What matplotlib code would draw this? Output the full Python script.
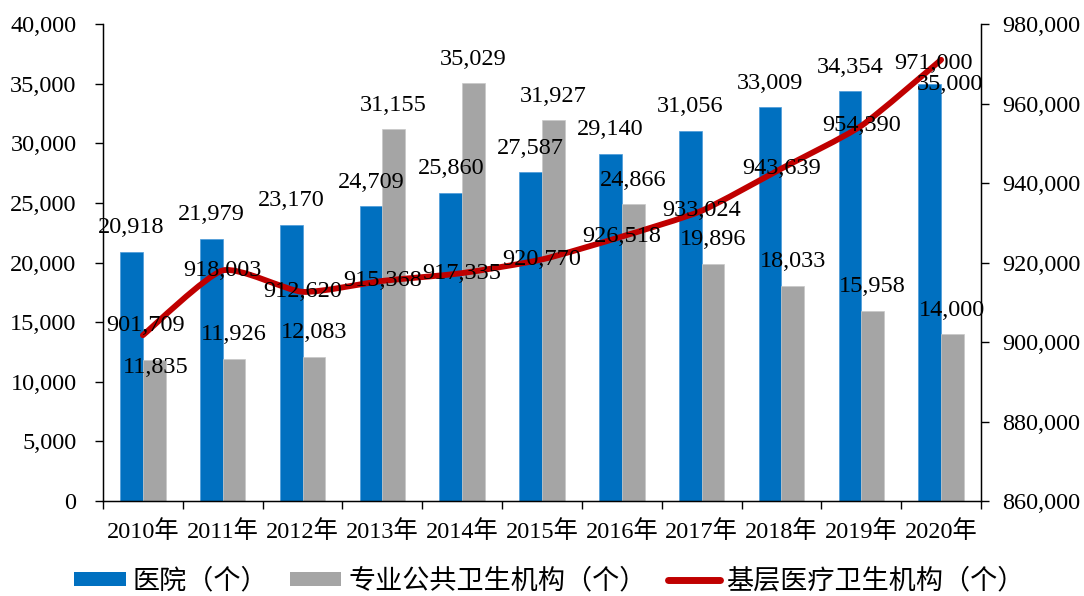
import matplotlib
matplotlib.use("Agg")
import matplotlib.pyplot as plt
import numpy as np
from matplotlib.path import Path
from matplotlib.patches import PathPatch, Patch
from matplotlib.lines import Line2D
from matplotlib.ticker import FuncFormatter

plt.rcParams["font.family"] = ["Liberation Serif", "Noto Sans CJK SC"]

# --- data ---------------------------------------------------------------
years = ["2010年", "2011年", "2012年", "2013年", "2014年", "2015年",
         "2016年", "2017年", "2018年", "2019年", "2020年"]
hospitals = [20918, 21979, 23170, 24709, 25860, 27587, 29140, 31056, 33009, 34354, 35000]
public_health = [11835, 11926, 12083, 31155, 35029, 31927, 24866, 19896, 18033, 15958, 14000]
primary_care = [901709, 918003, 912620, 915368, 917335, 920770, 926518, 933024, 943639, 954390, 971000]

BLUE = "#0070C0"
GREY = "#A5A5A5"
RED = "#C00000"
FS = 17.5

# label nudges in pixels (dx, dy up); a few were hand-moved in the source chart
hosp_off = [(0, 24)] * 10 + [(20, -1)]
pub_off = [(1, -8)] + [(0, 24)] * 10
prim_off = [(3, 10)] + [(0, 0)] * 9 + [(-8, -4)]


def smooth_path(xs, ys, k=0.1):
    """Lightly smoothed line through the points (cubic bezier, Excel-like)."""
    n = len(xs)
    verts = [(xs[0], ys[0])]
    codes = [Path.MOVETO]
    for i in range(n - 1):
        x0, y0 = xs[max(i - 1, 0)], ys[max(i - 1, 0)]
        x1, y1 = xs[i], ys[i]
        x2, y2 = xs[i + 1], ys[i + 1]
        x3, y3 = xs[min(i + 2, n - 1)], ys[min(i + 2, n - 1)]
        verts += [(x1 + (x2 - x0) * k, y1 + (y2 - y0) * k),
                  (x2 - (x3 - x1) * k, y2 - (y3 - y1) * k),
                  (x2, y2)]
        codes += [Path.CURVE4] * 3
    return Path(verts, codes)


fig = plt.figure(figsize=(10.84, 5.96), dpi=100)
ax = fig.add_axes([0.0950, 0.1594, 0.8100, 0.8003])
ax2 = ax.twinx()

x = np.arange(len(years))
w = 0.285
ax.bar(x - w / 2, hospitals, w, color=BLUE, edgecolor="#4A9AD8", linewidth=0.5)
ax.bar(x + w / 2, public_health, w, color=GREY, edgecolor="#C8C8C8", linewidth=0.5)

ax.set_xlim(-0.5, len(years) - 0.5)
ax.set_ylim(0, 40000)
ax.set_yticks(np.arange(0, 40001, 5000))
ax.yaxis.set_major_formatter(FuncFormatter(lambda v, p: f"{v:,.0f}"))
ax.set_xticks(np.arange(-0.5, len(years), 1))
ax.set_xticklabels([])
ax.set_xticks(x, minor=True)
ax.set_xticklabels(years, minor=True, fontsize=FS)
ax.tick_params(axis="x", which="major", direction="out", length=6, width=1)
ax.tick_params(axis="x", which="minor", length=0, pad=14)
ax.tick_params(axis="y", direction="out", length=6, width=1, labelsize=FS, pad=13)
ax.spines["top"].set_visible(False)
for s in ("left", "bottom"):
    ax.spines[s].set_linewidth(1.0)

ax2.set_ylim(860000, 980000)
ax2.set_yticks(np.arange(860000, 980001, 20000))
ax2.yaxis.set_major_formatter(FuncFormatter(lambda v, p: f"{v:,.0f}"))
ax2.tick_params(axis="y", direction="out", length=6, width=1, labelsize=FS, pad=9)
ax2.spines["top"].set_visible(False)
ax2.spines["right"].set_linewidth(1.0)

ax2.add_patch(PathPatch(smooth_path(x, primary_care), fill=False, edgecolor=RED,
                        linewidth=4.2, capstyle="round", joinstyle="round", zorder=3))

# data labels (all on ax2 so they sit above the line)
for i in range(len(years)):
    ax2.annotate(f"{hospitals[i]:,}", (x[i] - w / 2, hospitals[i]), xycoords=ax.transData,
                 xytext=hosp_off[i], textcoords="offset pixels", ha="center", va="center",
                 fontsize=FS, zorder=5, annotation_clip=False)
    ax2.annotate(f"{public_health[i]:,}", (x[i] + w / 2, public_health[i]), xycoords=ax.transData,
                 xytext=pub_off[i], textcoords="offset pixels", ha="center", va="center",
                 fontsize=FS, zorder=5, annotation_clip=False)
    ax2.annotate(f"{primary_care[i]:,}", (x[i], primary_care[i]),
                 xytext=prim_off[i], textcoords="offset pixels", ha="center", va="center",
                 fontsize=FS, zorder=5, annotation_clip=False)

handles = [Patch(facecolor=BLUE), Patch(facecolor=GREY),
           Line2D([0], [0], color=RED, linewidth=5, solid_capstyle="round")]
labels = ["医院（个）", "专业公共卫生机构（个）", "基层医疗卫生机构（个）"]
fig.legend(handles, labels, loc="center", bbox_to_anchor=(0.507, 0.024), ncol=3,
           frameon=False, fontsize=19.5, handlelength=1.9, handleheight=0.45,
           handletextpad=0.25, columnspacing=0.8, borderpad=0)

fig.savefig("out.png", dpi=100)
